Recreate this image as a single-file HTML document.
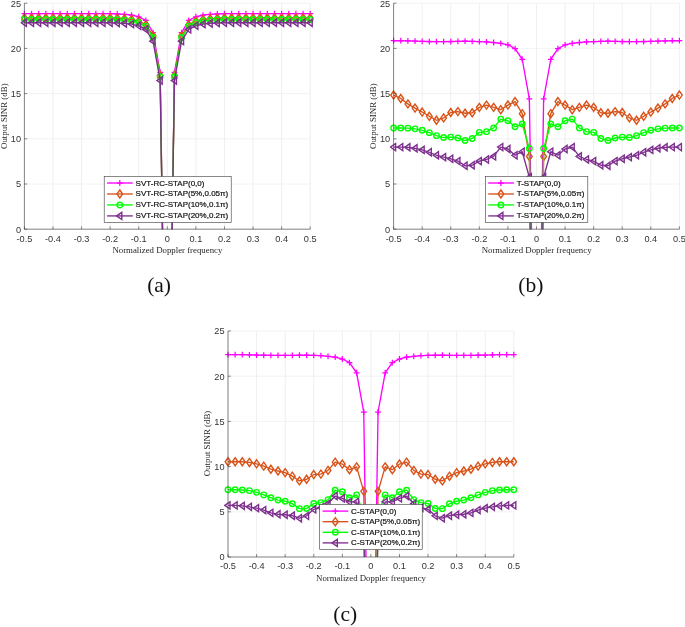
<!DOCTYPE html>
<html><head><meta charset="utf-8"><title>Output SINR versus normalized Doppler frequency</title>
<style>
html,body{margin:0;padding:0;background:#fff;}
body{width:685px;height:627px;overflow:hidden;position:relative;font-family:"Liberation Sans",sans-serif;}
svg{position:absolute;left:0;top:0;display:block;}
</style></head><body>
<svg width="685" height="627" viewBox="0 0 685 627">
<rect width="685" height="627" fill="#fff"/>
<path d="M24.4 3.2V229.2M52.98 3.2V229.2M81.56 3.2V229.2M110.14 3.2V229.2M138.72 3.2V229.2M167.3 3.2V229.2M195.88 3.2V229.2M224.46 3.2V229.2M253.04 3.2V229.2M281.62 3.2V229.2M310.2 3.2V229.2" stroke="#e9e9e9" stroke-width="0.75" fill="none"/>
<path d="M24.4 3.2H310.2M24.4 48.4H310.2M24.4 93.6H310.2M24.4 138.8H310.2M24.4 184H310.2M24.4 229.2H310.2" stroke="#ededed" stroke-width="0.75" fill="none"/>
<clipPath id="cpa"><rect x="20.4" y="3.2" width="293.8" height="226"/></clipPath>
<g clip-path="url(#cpa)">
<polyline points="24.4,13.69 31.55,13.69 38.69,13.69 45.84,13.69 52.98,13.69 60.12,13.69 67.27,13.69 74.42,13.69 81.56,13.69 88.7,13.69 95.85,13.69 103,13.69 110.14,13.69 117.28,13.96 124.43,14.41 131.58,15.04 138.72,16.76 145.87,20.38 153.01,32.67 160.16,72.36 167.3,545.6 174.45,72.36 181.59,32.67 188.74,20.38 195.88,16.76 203.03,15.04 210.17,14.41 217.32,13.96 224.46,13.69 231.61,13.69 238.75,13.69 245.9,13.69 253.04,13.69 260.19,13.69 267.33,13.69 274.48,13.69 281.62,13.69 288.76,13.69 295.91,13.69 303.06,13.69 310.2,13.69" stroke="#FF00FF" stroke-width="1.35" fill="none" stroke-linejoin="round"/>
<path d="M24.4 10.79V16.59M21.5 13.69H27.3" stroke="#FF00FF" stroke-width="1.25" fill="none"/>
<path d="M31.55 10.79V16.59M28.65 13.69H34.45" stroke="#FF00FF" stroke-width="1.25" fill="none"/>
<path d="M38.69 10.79V16.59M35.79 13.69H41.59" stroke="#FF00FF" stroke-width="1.25" fill="none"/>
<path d="M45.84 10.79V16.59M42.94 13.69H48.73" stroke="#FF00FF" stroke-width="1.25" fill="none"/>
<path d="M52.98 10.79V16.59M50.08 13.69H55.88" stroke="#FF00FF" stroke-width="1.25" fill="none"/>
<path d="M60.12 10.79V16.59M57.23 13.69H63.02" stroke="#FF00FF" stroke-width="1.25" fill="none"/>
<path d="M67.27 10.79V16.59M64.37 13.69H70.17" stroke="#FF00FF" stroke-width="1.25" fill="none"/>
<path d="M74.42 10.79V16.59M71.52 13.69H77.32" stroke="#FF00FF" stroke-width="1.25" fill="none"/>
<path d="M81.56 10.79V16.59M78.66 13.69H84.46" stroke="#FF00FF" stroke-width="1.25" fill="none"/>
<path d="M88.7 10.79V16.59M85.8 13.69H91.6" stroke="#FF00FF" stroke-width="1.25" fill="none"/>
<path d="M95.85 10.79V16.59M92.95 13.69H98.75" stroke="#FF00FF" stroke-width="1.25" fill="none"/>
<path d="M103 10.79V16.59M100.09 13.69H105.9" stroke="#FF00FF" stroke-width="1.25" fill="none"/>
<path d="M110.14 10.79V16.59M107.24 13.69H113.04" stroke="#FF00FF" stroke-width="1.25" fill="none"/>
<path d="M117.28 11.06V16.86M114.38 13.96H120.19" stroke="#FF00FF" stroke-width="1.25" fill="none"/>
<path d="M124.43 11.51V17.31M121.53 14.41H127.33" stroke="#FF00FF" stroke-width="1.25" fill="none"/>
<path d="M131.58 12.14V17.94M128.68 15.04H134.48" stroke="#FF00FF" stroke-width="1.25" fill="none"/>
<path d="M138.72 13.86V19.66M135.82 16.76H141.62" stroke="#FF00FF" stroke-width="1.25" fill="none"/>
<path d="M145.87 17.48V23.28M142.97 20.38H148.77" stroke="#FF00FF" stroke-width="1.25" fill="none"/>
<path d="M153.01 29.77V35.57M150.11 32.67H155.91" stroke="#FF00FF" stroke-width="1.25" fill="none"/>
<path d="M160.16 69.46V75.26M157.26 72.36H163.06" stroke="#FF00FF" stroke-width="1.25" fill="none"/>
<path d="M174.45 69.46V75.26M171.55 72.36H177.35" stroke="#FF00FF" stroke-width="1.25" fill="none"/>
<path d="M181.59 29.77V35.57M178.69 32.67H184.49" stroke="#FF00FF" stroke-width="1.25" fill="none"/>
<path d="M188.74 17.48V23.28M185.84 20.38H191.64" stroke="#FF00FF" stroke-width="1.25" fill="none"/>
<path d="M195.88 13.86V19.66M192.98 16.76H198.78" stroke="#FF00FF" stroke-width="1.25" fill="none"/>
<path d="M203.03 12.14V17.94M200.12 15.04H205.93" stroke="#FF00FF" stroke-width="1.25" fill="none"/>
<path d="M210.17 11.51V17.31M207.27 14.41H213.07" stroke="#FF00FF" stroke-width="1.25" fill="none"/>
<path d="M217.32 11.06V16.86M214.42 13.96H220.22" stroke="#FF00FF" stroke-width="1.25" fill="none"/>
<path d="M224.46 10.79V16.59M221.56 13.69H227.36" stroke="#FF00FF" stroke-width="1.25" fill="none"/>
<path d="M231.61 10.79V16.59M228.71 13.69H234.51" stroke="#FF00FF" stroke-width="1.25" fill="none"/>
<path d="M238.75 10.79V16.59M235.85 13.69H241.65" stroke="#FF00FF" stroke-width="1.25" fill="none"/>
<path d="M245.9 10.79V16.59M243 13.69H248.8" stroke="#FF00FF" stroke-width="1.25" fill="none"/>
<path d="M253.04 10.79V16.59M250.14 13.69H255.94" stroke="#FF00FF" stroke-width="1.25" fill="none"/>
<path d="M260.19 10.79V16.59M257.29 13.69H263.08" stroke="#FF00FF" stroke-width="1.25" fill="none"/>
<path d="M267.33 10.79V16.59M264.43 13.69H270.23" stroke="#FF00FF" stroke-width="1.25" fill="none"/>
<path d="M274.48 10.79V16.59M271.58 13.69H277.38" stroke="#FF00FF" stroke-width="1.25" fill="none"/>
<path d="M281.62 10.79V16.59M278.72 13.69H284.52" stroke="#FF00FF" stroke-width="1.25" fill="none"/>
<path d="M288.76 10.79V16.59M285.87 13.69H291.66" stroke="#FF00FF" stroke-width="1.25" fill="none"/>
<path d="M295.91 10.79V16.59M293.01 13.69H298.81" stroke="#FF00FF" stroke-width="1.25" fill="none"/>
<path d="M303.06 10.79V16.59M300.16 13.69H305.95" stroke="#FF00FF" stroke-width="1.25" fill="none"/>
<path d="M310.2 10.79V16.59M307.3 13.69H313.1" stroke="#FF00FF" stroke-width="1.25" fill="none"/>
<polyline points="24.4,18.03 31.55,18.03 38.69,18.03 45.84,18.03 52.98,18.03 60.12,18.03 67.27,18.03 74.42,18.03 81.56,18.03 88.7,18.03 95.85,18.03 103,18.03 110.14,18.03 117.28,18.3 124.43,18.75 131.58,19.38 138.72,21.1 145.87,24.72 153.01,35.74 160.16,75.52 167.3,545.6 174.45,75.52 181.59,35.74 188.74,24.72 195.88,21.1 203.03,19.38 210.17,18.75 217.32,18.3 224.46,18.03 231.61,18.03 238.75,18.03 245.9,18.03 253.04,18.03 260.19,18.03 267.33,18.03 274.48,18.03 281.62,18.03 288.76,18.03 295.91,18.03 303.06,18.03 310.2,18.03" stroke="#D95319" stroke-width="1.35" fill="none" stroke-linejoin="round"/>
<path d="M24.4 14.03L27.25 18.03L24.4 22.03L21.55 18.03Z" stroke="#D95319" stroke-width="1.4" fill="none" stroke-linejoin="miter"/>
<path d="M31.55 14.03L34.4 18.03L31.55 22.03L28.7 18.03Z" stroke="#D95319" stroke-width="1.4" fill="none" stroke-linejoin="miter"/>
<path d="M38.69 14.03L41.54 18.03L38.69 22.03L35.84 18.03Z" stroke="#D95319" stroke-width="1.4" fill="none" stroke-linejoin="miter"/>
<path d="M45.84 14.03L48.69 18.03L45.84 22.03L42.98 18.03Z" stroke="#D95319" stroke-width="1.4" fill="none" stroke-linejoin="miter"/>
<path d="M52.98 14.03L55.83 18.03L52.98 22.03L50.13 18.03Z" stroke="#D95319" stroke-width="1.4" fill="none" stroke-linejoin="miter"/>
<path d="M60.12 14.03L62.98 18.03L60.12 22.03L57.27 18.03Z" stroke="#D95319" stroke-width="1.4" fill="none" stroke-linejoin="miter"/>
<path d="M67.27 14.03L70.12 18.03L67.27 22.03L64.42 18.03Z" stroke="#D95319" stroke-width="1.4" fill="none" stroke-linejoin="miter"/>
<path d="M74.42 14.03L77.27 18.03L74.42 22.03L71.57 18.03Z" stroke="#D95319" stroke-width="1.4" fill="none" stroke-linejoin="miter"/>
<path d="M81.56 14.03L84.41 18.03L81.56 22.03L78.71 18.03Z" stroke="#D95319" stroke-width="1.4" fill="none" stroke-linejoin="miter"/>
<path d="M88.7 14.03L91.55 18.03L88.7 22.03L85.85 18.03Z" stroke="#D95319" stroke-width="1.4" fill="none" stroke-linejoin="miter"/>
<path d="M95.85 14.03L98.7 18.03L95.85 22.03L93 18.03Z" stroke="#D95319" stroke-width="1.4" fill="none" stroke-linejoin="miter"/>
<path d="M103 14.03L105.84 18.03L103 22.03L100.15 18.03Z" stroke="#D95319" stroke-width="1.4" fill="none" stroke-linejoin="miter"/>
<path d="M110.14 14.03L112.99 18.03L110.14 22.03L107.29 18.03Z" stroke="#D95319" stroke-width="1.4" fill="none" stroke-linejoin="miter"/>
<path d="M117.28 14.3L120.13 18.3L117.28 22.3L114.44 18.3Z" stroke="#D95319" stroke-width="1.4" fill="none" stroke-linejoin="miter"/>
<path d="M124.43 14.75L127.28 18.75L124.43 22.75L121.58 18.75Z" stroke="#D95319" stroke-width="1.4" fill="none" stroke-linejoin="miter"/>
<path d="M131.58 15.38L134.43 19.38L131.58 23.38L128.73 19.38Z" stroke="#D95319" stroke-width="1.4" fill="none" stroke-linejoin="miter"/>
<path d="M138.72 17.1L141.57 21.1L138.72 25.1L135.87 21.1Z" stroke="#D95319" stroke-width="1.4" fill="none" stroke-linejoin="miter"/>
<path d="M145.87 20.72L148.72 24.72L145.87 28.72L143.02 24.72Z" stroke="#D95319" stroke-width="1.4" fill="none" stroke-linejoin="miter"/>
<path d="M153.01 31.74L155.86 35.74L153.01 39.74L150.16 35.74Z" stroke="#D95319" stroke-width="1.4" fill="none" stroke-linejoin="miter"/>
<path d="M160.16 71.52L163.01 75.52L160.16 79.52L157.31 75.52Z" stroke="#D95319" stroke-width="1.4" fill="none" stroke-linejoin="miter"/>
<path d="M174.45 71.52L177.3 75.52L174.45 79.52L171.6 75.52Z" stroke="#D95319" stroke-width="1.4" fill="none" stroke-linejoin="miter"/>
<path d="M181.59 31.74L184.44 35.74L181.59 39.74L178.74 35.74Z" stroke="#D95319" stroke-width="1.4" fill="none" stroke-linejoin="miter"/>
<path d="M188.74 20.72L191.59 24.72L188.74 28.72L185.89 24.72Z" stroke="#D95319" stroke-width="1.4" fill="none" stroke-linejoin="miter"/>
<path d="M195.88 17.1L198.73 21.1L195.88 25.1L193.03 21.1Z" stroke="#D95319" stroke-width="1.4" fill="none" stroke-linejoin="miter"/>
<path d="M203.03 15.38L205.88 19.38L203.03 23.38L200.18 19.38Z" stroke="#D95319" stroke-width="1.4" fill="none" stroke-linejoin="miter"/>
<path d="M210.17 14.75L213.02 18.75L210.17 22.75L207.32 18.75Z" stroke="#D95319" stroke-width="1.4" fill="none" stroke-linejoin="miter"/>
<path d="M217.32 14.3L220.17 18.3L217.32 22.3L214.47 18.3Z" stroke="#D95319" stroke-width="1.4" fill="none" stroke-linejoin="miter"/>
<path d="M224.46 14.03L227.31 18.03L224.46 22.03L221.61 18.03Z" stroke="#D95319" stroke-width="1.4" fill="none" stroke-linejoin="miter"/>
<path d="M231.61 14.03L234.46 18.03L231.61 22.03L228.76 18.03Z" stroke="#D95319" stroke-width="1.4" fill="none" stroke-linejoin="miter"/>
<path d="M238.75 14.03L241.6 18.03L238.75 22.03L235.9 18.03Z" stroke="#D95319" stroke-width="1.4" fill="none" stroke-linejoin="miter"/>
<path d="M245.9 14.03L248.75 18.03L245.9 22.03L243.05 18.03Z" stroke="#D95319" stroke-width="1.4" fill="none" stroke-linejoin="miter"/>
<path d="M253.04 14.03L255.89 18.03L253.04 22.03L250.19 18.03Z" stroke="#D95319" stroke-width="1.4" fill="none" stroke-linejoin="miter"/>
<path d="M260.19 14.03L263.04 18.03L260.19 22.03L257.33 18.03Z" stroke="#D95319" stroke-width="1.4" fill="none" stroke-linejoin="miter"/>
<path d="M267.33 14.03L270.18 18.03L267.33 22.03L264.48 18.03Z" stroke="#D95319" stroke-width="1.4" fill="none" stroke-linejoin="miter"/>
<path d="M274.48 14.03L277.33 18.03L274.48 22.03L271.62 18.03Z" stroke="#D95319" stroke-width="1.4" fill="none" stroke-linejoin="miter"/>
<path d="M281.62 14.03L284.47 18.03L281.62 22.03L278.77 18.03Z" stroke="#D95319" stroke-width="1.4" fill="none" stroke-linejoin="miter"/>
<path d="M288.76 14.03L291.62 18.03L288.76 22.03L285.91 18.03Z" stroke="#D95319" stroke-width="1.4" fill="none" stroke-linejoin="miter"/>
<path d="M295.91 14.03L298.76 18.03L295.91 22.03L293.06 18.03Z" stroke="#D95319" stroke-width="1.4" fill="none" stroke-linejoin="miter"/>
<path d="M303.06 14.03L305.91 18.03L303.06 22.03L300.2 18.03Z" stroke="#D95319" stroke-width="1.4" fill="none" stroke-linejoin="miter"/>
<path d="M310.2 14.03L313.05 18.03L310.2 22.03L307.35 18.03Z" stroke="#D95319" stroke-width="1.4" fill="none" stroke-linejoin="miter"/>
<polyline points="24.4,19.47 31.55,19.47 38.69,19.47 45.84,19.47 52.98,19.47 60.12,19.47 67.27,19.47 74.42,19.47 81.56,19.47 88.7,19.47 95.85,19.47 103,19.47 110.14,19.47 117.28,19.74 124.43,20.2 131.58,20.83 138.72,22.55 145.87,26.16 153.01,37.55 160.16,76.88 167.3,545.6 174.45,76.88 181.59,37.55 188.74,26.16 195.88,22.55 203.03,20.83 210.17,20.2 217.32,19.74 224.46,19.47 231.61,19.47 238.75,19.47 245.9,19.47 253.04,19.47 260.19,19.47 267.33,19.47 274.48,19.47 281.62,19.47 288.76,19.47 295.91,19.47 303.06,19.47 310.2,19.47" stroke="#00FF00" stroke-width="1.35" fill="none" stroke-linejoin="round"/>
<circle cx="24.4" cy="19.47" r="2.75" stroke="#00FF00" stroke-width="1.4" fill="none"/>
<circle cx="31.55" cy="19.47" r="2.75" stroke="#00FF00" stroke-width="1.4" fill="none"/>
<circle cx="38.69" cy="19.47" r="2.75" stroke="#00FF00" stroke-width="1.4" fill="none"/>
<circle cx="45.84" cy="19.47" r="2.75" stroke="#00FF00" stroke-width="1.4" fill="none"/>
<circle cx="52.98" cy="19.47" r="2.75" stroke="#00FF00" stroke-width="1.4" fill="none"/>
<circle cx="60.12" cy="19.47" r="2.75" stroke="#00FF00" stroke-width="1.4" fill="none"/>
<circle cx="67.27" cy="19.47" r="2.75" stroke="#00FF00" stroke-width="1.4" fill="none"/>
<circle cx="74.42" cy="19.47" r="2.75" stroke="#00FF00" stroke-width="1.4" fill="none"/>
<circle cx="81.56" cy="19.47" r="2.75" stroke="#00FF00" stroke-width="1.4" fill="none"/>
<circle cx="88.7" cy="19.47" r="2.75" stroke="#00FF00" stroke-width="1.4" fill="none"/>
<circle cx="95.85" cy="19.47" r="2.75" stroke="#00FF00" stroke-width="1.4" fill="none"/>
<circle cx="103" cy="19.47" r="2.75" stroke="#00FF00" stroke-width="1.4" fill="none"/>
<circle cx="110.14" cy="19.47" r="2.75" stroke="#00FF00" stroke-width="1.4" fill="none"/>
<circle cx="117.28" cy="19.74" r="2.75" stroke="#00FF00" stroke-width="1.4" fill="none"/>
<circle cx="124.43" cy="20.2" r="2.75" stroke="#00FF00" stroke-width="1.4" fill="none"/>
<circle cx="131.58" cy="20.83" r="2.75" stroke="#00FF00" stroke-width="1.4" fill="none"/>
<circle cx="138.72" cy="22.55" r="2.75" stroke="#00FF00" stroke-width="1.4" fill="none"/>
<circle cx="145.87" cy="26.16" r="2.75" stroke="#00FF00" stroke-width="1.4" fill="none"/>
<circle cx="153.01" cy="37.55" r="2.75" stroke="#00FF00" stroke-width="1.4" fill="none"/>
<circle cx="160.16" cy="76.88" r="2.75" stroke="#00FF00" stroke-width="1.4" fill="none"/>
<circle cx="174.45" cy="76.88" r="2.75" stroke="#00FF00" stroke-width="1.4" fill="none"/>
<circle cx="181.59" cy="37.55" r="2.75" stroke="#00FF00" stroke-width="1.4" fill="none"/>
<circle cx="188.74" cy="26.16" r="2.75" stroke="#00FF00" stroke-width="1.4" fill="none"/>
<circle cx="195.88" cy="22.55" r="2.75" stroke="#00FF00" stroke-width="1.4" fill="none"/>
<circle cx="203.03" cy="20.83" r="2.75" stroke="#00FF00" stroke-width="1.4" fill="none"/>
<circle cx="210.17" cy="20.2" r="2.75" stroke="#00FF00" stroke-width="1.4" fill="none"/>
<circle cx="217.32" cy="19.74" r="2.75" stroke="#00FF00" stroke-width="1.4" fill="none"/>
<circle cx="224.46" cy="19.47" r="2.75" stroke="#00FF00" stroke-width="1.4" fill="none"/>
<circle cx="231.61" cy="19.47" r="2.75" stroke="#00FF00" stroke-width="1.4" fill="none"/>
<circle cx="238.75" cy="19.47" r="2.75" stroke="#00FF00" stroke-width="1.4" fill="none"/>
<circle cx="245.9" cy="19.47" r="2.75" stroke="#00FF00" stroke-width="1.4" fill="none"/>
<circle cx="253.04" cy="19.47" r="2.75" stroke="#00FF00" stroke-width="1.4" fill="none"/>
<circle cx="260.19" cy="19.47" r="2.75" stroke="#00FF00" stroke-width="1.4" fill="none"/>
<circle cx="267.33" cy="19.47" r="2.75" stroke="#00FF00" stroke-width="1.4" fill="none"/>
<circle cx="274.48" cy="19.47" r="2.75" stroke="#00FF00" stroke-width="1.4" fill="none"/>
<circle cx="281.62" cy="19.47" r="2.75" stroke="#00FF00" stroke-width="1.4" fill="none"/>
<circle cx="288.76" cy="19.47" r="2.75" stroke="#00FF00" stroke-width="1.4" fill="none"/>
<circle cx="295.91" cy="19.47" r="2.75" stroke="#00FF00" stroke-width="1.4" fill="none"/>
<circle cx="303.06" cy="19.47" r="2.75" stroke="#00FF00" stroke-width="1.4" fill="none"/>
<circle cx="310.2" cy="19.47" r="2.75" stroke="#00FF00" stroke-width="1.4" fill="none"/>
<polyline points="24.4,22.73 31.55,22.73 38.69,22.73 45.84,22.73 52.98,22.73 60.12,22.73 67.27,22.73 74.42,22.73 81.56,22.73 88.7,22.73 95.85,22.73 103,22.73 110.14,22.73 117.28,23 124.43,23.45 131.58,24.08 138.72,25.8 145.87,29.42 153.01,41.17 160.16,80.49 167.3,545.6 174.45,80.49 181.59,41.17 188.74,29.42 195.88,25.8 203.03,24.08 210.17,23.45 217.32,23 224.46,22.73 231.61,22.73 238.75,22.73 245.9,22.73 253.04,22.73 260.19,22.73 267.33,22.73 274.48,22.73 281.62,22.73 288.76,22.73 295.91,22.73 303.06,22.73 310.2,22.73" stroke="#7E2F8E" stroke-width="1.35" fill="none" stroke-linejoin="round"/>
<path d="M21.2 22.73L26.4 19.13V26.33Z" stroke="#7E2F8E" stroke-width="1.4" fill="none" stroke-linejoin="miter"/>
<path d="M28.35 22.73L33.55 19.13V26.33Z" stroke="#7E2F8E" stroke-width="1.4" fill="none" stroke-linejoin="miter"/>
<path d="M35.49 22.73L40.69 19.13V26.33Z" stroke="#7E2F8E" stroke-width="1.4" fill="none" stroke-linejoin="miter"/>
<path d="M42.63 22.73L47.84 19.13V26.33Z" stroke="#7E2F8E" stroke-width="1.4" fill="none" stroke-linejoin="miter"/>
<path d="M49.78 22.73L54.98 19.13V26.33Z" stroke="#7E2F8E" stroke-width="1.4" fill="none" stroke-linejoin="miter"/>
<path d="M56.92 22.73L62.12 19.13V26.33Z" stroke="#7E2F8E" stroke-width="1.4" fill="none" stroke-linejoin="miter"/>
<path d="M64.07 22.73L69.27 19.13V26.33Z" stroke="#7E2F8E" stroke-width="1.4" fill="none" stroke-linejoin="miter"/>
<path d="M71.22 22.73L76.42 19.13V26.33Z" stroke="#7E2F8E" stroke-width="1.4" fill="none" stroke-linejoin="miter"/>
<path d="M78.36 22.73L83.56 19.13V26.33Z" stroke="#7E2F8E" stroke-width="1.4" fill="none" stroke-linejoin="miter"/>
<path d="M85.5 22.73L90.7 19.13V26.33Z" stroke="#7E2F8E" stroke-width="1.4" fill="none" stroke-linejoin="miter"/>
<path d="M92.65 22.73L97.85 19.13V26.33Z" stroke="#7E2F8E" stroke-width="1.4" fill="none" stroke-linejoin="miter"/>
<path d="M99.8 22.73L105 19.13V26.33Z" stroke="#7E2F8E" stroke-width="1.4" fill="none" stroke-linejoin="miter"/>
<path d="M106.94 22.73L112.14 19.13V26.33Z" stroke="#7E2F8E" stroke-width="1.4" fill="none" stroke-linejoin="miter"/>
<path d="M114.08 23L119.28 19.4V26.6Z" stroke="#7E2F8E" stroke-width="1.4" fill="none" stroke-linejoin="miter"/>
<path d="M121.23 23.45L126.43 19.85V27.05Z" stroke="#7E2F8E" stroke-width="1.4" fill="none" stroke-linejoin="miter"/>
<path d="M128.38 24.08L133.58 20.48V27.68Z" stroke="#7E2F8E" stroke-width="1.4" fill="none" stroke-linejoin="miter"/>
<path d="M135.52 25.8L140.72 22.2V29.4Z" stroke="#7E2F8E" stroke-width="1.4" fill="none" stroke-linejoin="miter"/>
<path d="M142.67 29.42L147.87 25.82V33.02Z" stroke="#7E2F8E" stroke-width="1.4" fill="none" stroke-linejoin="miter"/>
<path d="M149.81 41.17L155.01 37.57V44.77Z" stroke="#7E2F8E" stroke-width="1.4" fill="none" stroke-linejoin="miter"/>
<path d="M156.96 80.49L162.16 76.89V84.09Z" stroke="#7E2F8E" stroke-width="1.4" fill="none" stroke-linejoin="miter"/>
<path d="M171.25 80.49L176.45 76.89V84.09Z" stroke="#7E2F8E" stroke-width="1.4" fill="none" stroke-linejoin="miter"/>
<path d="M178.39 41.17L183.59 37.57V44.77Z" stroke="#7E2F8E" stroke-width="1.4" fill="none" stroke-linejoin="miter"/>
<path d="M185.54 29.42L190.74 25.82V33.02Z" stroke="#7E2F8E" stroke-width="1.4" fill="none" stroke-linejoin="miter"/>
<path d="M192.68 25.8L197.88 22.2V29.4Z" stroke="#7E2F8E" stroke-width="1.4" fill="none" stroke-linejoin="miter"/>
<path d="M199.83 24.08L205.03 20.48V27.68Z" stroke="#7E2F8E" stroke-width="1.4" fill="none" stroke-linejoin="miter"/>
<path d="M206.97 23.45L212.17 19.85V27.05Z" stroke="#7E2F8E" stroke-width="1.4" fill="none" stroke-linejoin="miter"/>
<path d="M214.12 23L219.32 19.4V26.6Z" stroke="#7E2F8E" stroke-width="1.4" fill="none" stroke-linejoin="miter"/>
<path d="M221.26 22.73L226.46 19.13V26.33Z" stroke="#7E2F8E" stroke-width="1.4" fill="none" stroke-linejoin="miter"/>
<path d="M228.41 22.73L233.61 19.13V26.33Z" stroke="#7E2F8E" stroke-width="1.4" fill="none" stroke-linejoin="miter"/>
<path d="M235.55 22.73L240.75 19.13V26.33Z" stroke="#7E2F8E" stroke-width="1.4" fill="none" stroke-linejoin="miter"/>
<path d="M242.7 22.73L247.9 19.13V26.33Z" stroke="#7E2F8E" stroke-width="1.4" fill="none" stroke-linejoin="miter"/>
<path d="M249.84 22.73L255.04 19.13V26.33Z" stroke="#7E2F8E" stroke-width="1.4" fill="none" stroke-linejoin="miter"/>
<path d="M256.99 22.73L262.19 19.13V26.33Z" stroke="#7E2F8E" stroke-width="1.4" fill="none" stroke-linejoin="miter"/>
<path d="M264.13 22.73L269.33 19.13V26.33Z" stroke="#7E2F8E" stroke-width="1.4" fill="none" stroke-linejoin="miter"/>
<path d="M271.28 22.73L276.48 19.13V26.33Z" stroke="#7E2F8E" stroke-width="1.4" fill="none" stroke-linejoin="miter"/>
<path d="M278.42 22.73L283.62 19.13V26.33Z" stroke="#7E2F8E" stroke-width="1.4" fill="none" stroke-linejoin="miter"/>
<path d="M285.56 22.73L290.76 19.13V26.33Z" stroke="#7E2F8E" stroke-width="1.4" fill="none" stroke-linejoin="miter"/>
<path d="M292.71 22.73L297.91 19.13V26.33Z" stroke="#7E2F8E" stroke-width="1.4" fill="none" stroke-linejoin="miter"/>
<path d="M299.86 22.73L305.06 19.13V26.33Z" stroke="#7E2F8E" stroke-width="1.4" fill="none" stroke-linejoin="miter"/>
<path d="M307 22.73L312.2 19.13V26.33Z" stroke="#7E2F8E" stroke-width="1.4" fill="none" stroke-linejoin="miter"/>
</g>
<path d="M24.4 3.2V229.2H310.2M24.4 229.2v-2.9M52.98 229.2v-2.9M81.56 229.2v-2.9M110.14 229.2v-2.9M138.72 229.2v-2.9M167.3 229.2v-2.9M195.88 229.2v-2.9M224.46 229.2v-2.9M253.04 229.2v-2.9M281.62 229.2v-2.9M310.2 229.2v-2.9M24.4 3.2h2.9M24.4 48.4h2.9M24.4 93.6h2.9M24.4 138.8h2.9M24.4 184h2.9M24.4 229.2h2.9" stroke="#3a3a3a" stroke-width="0.6" fill="none"/>
<g font-family="Liberation Sans, Arial, sans-serif" font-size="9.2" fill="#333">
<text x="24.4" y="241.6" text-anchor="middle">-0.5</text>
<text x="52.98" y="241.6" text-anchor="middle">-0.4</text>
<text x="81.56" y="241.6" text-anchor="middle">-0.3</text>
<text x="110.14" y="241.6" text-anchor="middle">-0.2</text>
<text x="138.72" y="241.6" text-anchor="middle">-0.1</text>
<text x="167.3" y="241.6" text-anchor="middle">0</text>
<text x="195.88" y="241.6" text-anchor="middle">0.1</text>
<text x="224.46" y="241.6" text-anchor="middle">0.2</text>
<text x="253.04" y="241.6" text-anchor="middle">0.3</text>
<text x="281.62" y="241.6" text-anchor="middle">0.4</text>
<text x="310.2" y="241.6" text-anchor="middle">0.5</text>
<text x="21" y="6.5" text-anchor="end">25</text>
<text x="21" y="51.7" text-anchor="end">20</text>
<text x="21" y="96.9" text-anchor="end">15</text>
<text x="21" y="142.1" text-anchor="end">10</text>
<text x="21" y="187.3" text-anchor="end">5</text>
<text x="21" y="232.5" text-anchor="end">0</text>
</g>
<g font-family="Liberation Serif, Times New Roman, serif" fill="#262626">
<text x="167.4" y="252.5" font-size="8.8" text-anchor="middle">Normalized Doppler frequency</text>
<text transform="translate(6.6 116.2) rotate(-90)" font-size="8.9" text-anchor="middle">Output SINR (dB)</text>
<text x="159.1" y="292.3" font-size="21.5" text-anchor="middle" fill="#111">(a)</text>
</g>
<rect x="104.2" y="176.4" width="127" height="46" fill="#fff" stroke="#3a3a3a" stroke-width="0.6"/>
<g font-family="Liberation Sans, Arial, sans-serif" font-size="8.03" fill="#111" stroke="#111" stroke-width="0.2">
<path d="M107.1 183H132.8" stroke="#FF00FF" stroke-width="1.35"/>
<path d="M119.8 180.1V185.9M116.9 183H122.7" stroke="#FF00FF" stroke-width="1.25" fill="none"/>
<text x="135.6" y="185.5">SVT-RC-STAP(0,0)</text>
<path d="M107.1 193.97H132.8" stroke="#D95319" stroke-width="1.35"/>
<path d="M119.8 189.97L122.65 193.97L119.8 197.97L116.95 193.97Z" stroke="#D95319" stroke-width="1.4" fill="none" stroke-linejoin="miter"/>
<text x="135.6" y="196.47">SVT-RC-STAP(5%,0.05π)</text>
<path d="M107.1 204.94H132.8" stroke="#00FF00" stroke-width="1.35"/>
<circle cx="119.8" cy="204.94" r="2.75" stroke="#00FF00" stroke-width="1.4" fill="none"/>
<text x="135.6" y="207.44">SVT-RC-STAP(10%,0.1π)</text>
<path d="M107.1 215.91H132.8" stroke="#7E2F8E" stroke-width="1.35"/>
<path d="M116.6 215.91L121.8 212.31V219.51Z" stroke="#7E2F8E" stroke-width="1.4" fill="none" stroke-linejoin="miter"/>
<text x="135.6" y="218.41">SVT-RC-STAP(20%,0.2π)</text>
</g>
<path d="M393.6 3.2V229.2M422.18 3.2V229.2M450.76 3.2V229.2M479.34 3.2V229.2M507.92 3.2V229.2M536.5 3.2V229.2M565.08 3.2V229.2M593.66 3.2V229.2M622.24 3.2V229.2M650.82 3.2V229.2M679.4 3.2V229.2" stroke="#e9e9e9" stroke-width="0.75" fill="none"/>
<path d="M393.6 3.2H679.4M393.6 48.4H679.4M393.6 93.6H679.4M393.6 138.8H679.4M393.6 184H679.4M393.6 229.2H679.4" stroke="#ededed" stroke-width="0.75" fill="none"/>
<clipPath id="cpb"><rect x="389.6" y="3.2" width="293.8" height="226"/></clipPath>
<g clip-path="url(#cpb)">
<polyline points="393.6,40.72 400.75,40.72 407.89,40.9 415.04,41.17 422.18,41.35 429.33,41.53 436.47,41.62 443.62,41.62 450.76,41.53 457.91,41.35 465.05,41.17 472.2,41.35 479.34,41.62 486.49,41.89 493.63,42.52 500.78,43.43 507.92,44.78 515.07,48.67 522.21,59.25 529.36,98.84 536.5,545.6 543.64,98.84 550.79,59.25 557.94,48.67 565.08,44.78 572.23,43.43 579.37,42.52 586.52,41.89 593.66,41.62 600.81,41.35 607.95,41.17 615.1,41.35 622.24,41.53 629.38,41.62 636.53,41.62 643.68,41.53 650.82,41.35 657.97,41.17 665.11,40.9 672.26,40.72 679.4,40.72" stroke="#FF00FF" stroke-width="1.35" fill="none" stroke-linejoin="round"/>
<path d="M393.6 37.82V43.62M390.7 40.72H396.5" stroke="#FF00FF" stroke-width="1.25" fill="none"/>
<path d="M400.75 37.82V43.62M397.85 40.72H403.64" stroke="#FF00FF" stroke-width="1.25" fill="none"/>
<path d="M407.89 38V43.8M404.99 40.9H410.79" stroke="#FF00FF" stroke-width="1.25" fill="none"/>
<path d="M415.04 38.27V44.07M412.14 41.17H417.94" stroke="#FF00FF" stroke-width="1.25" fill="none"/>
<path d="M422.18 38.45V44.25M419.28 41.35H425.08" stroke="#FF00FF" stroke-width="1.25" fill="none"/>
<path d="M429.33 38.63V44.43M426.43 41.53H432.23" stroke="#FF00FF" stroke-width="1.25" fill="none"/>
<path d="M436.47 38.72V44.52M433.57 41.62H439.37" stroke="#FF00FF" stroke-width="1.25" fill="none"/>
<path d="M443.62 38.72V44.52M440.72 41.62H446.51" stroke="#FF00FF" stroke-width="1.25" fill="none"/>
<path d="M450.76 38.63V44.43M447.86 41.53H453.66" stroke="#FF00FF" stroke-width="1.25" fill="none"/>
<path d="M457.91 38.45V44.25M455.01 41.35H460.81" stroke="#FF00FF" stroke-width="1.25" fill="none"/>
<path d="M465.05 38.27V44.07M462.15 41.17H467.95" stroke="#FF00FF" stroke-width="1.25" fill="none"/>
<path d="M472.2 38.45V44.25M469.3 41.35H475.1" stroke="#FF00FF" stroke-width="1.25" fill="none"/>
<path d="M479.34 38.72V44.52M476.44 41.62H482.24" stroke="#FF00FF" stroke-width="1.25" fill="none"/>
<path d="M486.49 38.99V44.79M483.59 41.89H489.38" stroke="#FF00FF" stroke-width="1.25" fill="none"/>
<path d="M493.63 39.62V45.42M490.73 42.52H496.53" stroke="#FF00FF" stroke-width="1.25" fill="none"/>
<path d="M500.78 40.53V46.33M497.88 43.43H503.68" stroke="#FF00FF" stroke-width="1.25" fill="none"/>
<path d="M507.92 41.88V47.68M505.02 44.78H510.82" stroke="#FF00FF" stroke-width="1.25" fill="none"/>
<path d="M515.07 45.77V51.57M512.17 48.67H517.97" stroke="#FF00FF" stroke-width="1.25" fill="none"/>
<path d="M522.21 56.35V62.15M519.31 59.25H525.11" stroke="#FF00FF" stroke-width="1.25" fill="none"/>
<path d="M529.36 95.94V101.74M526.46 98.84H532.25" stroke="#FF00FF" stroke-width="1.25" fill="none"/>
<path d="M543.64 95.94V101.74M540.75 98.84H546.54" stroke="#FF00FF" stroke-width="1.25" fill="none"/>
<path d="M550.79 56.35V62.15M547.89 59.25H553.69" stroke="#FF00FF" stroke-width="1.25" fill="none"/>
<path d="M557.94 45.77V51.57M555.04 48.67H560.84" stroke="#FF00FF" stroke-width="1.25" fill="none"/>
<path d="M565.08 41.88V47.68M562.18 44.78H567.98" stroke="#FF00FF" stroke-width="1.25" fill="none"/>
<path d="M572.23 40.53V46.33M569.33 43.43H575.12" stroke="#FF00FF" stroke-width="1.25" fill="none"/>
<path d="M579.37 39.62V45.42M576.47 42.52H582.27" stroke="#FF00FF" stroke-width="1.25" fill="none"/>
<path d="M586.52 38.99V44.79M583.62 41.89H589.42" stroke="#FF00FF" stroke-width="1.25" fill="none"/>
<path d="M593.66 38.72V44.52M590.76 41.62H596.56" stroke="#FF00FF" stroke-width="1.25" fill="none"/>
<path d="M600.81 38.45V44.25M597.91 41.35H603.71" stroke="#FF00FF" stroke-width="1.25" fill="none"/>
<path d="M607.95 38.27V44.07M605.05 41.17H610.85" stroke="#FF00FF" stroke-width="1.25" fill="none"/>
<path d="M615.1 38.45V44.25M612.2 41.35H618" stroke="#FF00FF" stroke-width="1.25" fill="none"/>
<path d="M622.24 38.63V44.43M619.34 41.53H625.14" stroke="#FF00FF" stroke-width="1.25" fill="none"/>
<path d="M629.38 38.72V44.52M626.49 41.62H632.28" stroke="#FF00FF" stroke-width="1.25" fill="none"/>
<path d="M636.53 38.72V44.52M633.63 41.62H639.43" stroke="#FF00FF" stroke-width="1.25" fill="none"/>
<path d="M643.68 38.63V44.43M640.78 41.53H646.58" stroke="#FF00FF" stroke-width="1.25" fill="none"/>
<path d="M650.82 38.45V44.25M647.92 41.35H653.72" stroke="#FF00FF" stroke-width="1.25" fill="none"/>
<path d="M657.97 38.27V44.07M655.07 41.17H660.87" stroke="#FF00FF" stroke-width="1.25" fill="none"/>
<path d="M665.11 38V43.8M662.21 40.9H668.01" stroke="#FF00FF" stroke-width="1.25" fill="none"/>
<path d="M672.26 37.82V43.62M669.36 40.72H675.16" stroke="#FF00FF" stroke-width="1.25" fill="none"/>
<path d="M679.4 37.82V43.62M676.5 40.72H682.3" stroke="#FF00FF" stroke-width="1.25" fill="none"/>
<polyline points="393.6,95.05 400.75,98.48 407.89,103.91 415.04,108.06 422.18,112.04 429.33,116.29 436.47,120.27 443.62,117.92 450.76,112.49 457.91,111.59 465.05,113.22 472.2,112.76 479.34,107.34 486.49,105.08 493.63,107.34 500.78,109.69 507.92,105.08 515.07,101.56 522.21,113.67 529.36,156.43 536.5,636 543.64,156.43 550.79,113.67 557.94,101.56 565.08,105.08 572.23,109.69 579.37,107.34 586.52,105.08 593.66,107.34 600.81,112.76 607.95,113.22 615.1,111.59 622.24,112.49 629.38,117.92 636.53,120.27 643.68,116.29 650.82,112.04 657.97,108.06 665.11,103.91 672.26,98.48 679.4,95.05" stroke="#D95319" stroke-width="1.35" fill="none" stroke-linejoin="round"/>
<path d="M393.6 91.05L396.45 95.05L393.6 99.05L390.75 95.05Z" stroke="#D95319" stroke-width="1.4" fill="none" stroke-linejoin="miter"/>
<path d="M400.75 94.48L403.6 98.48L400.75 102.48L397.89 98.48Z" stroke="#D95319" stroke-width="1.4" fill="none" stroke-linejoin="miter"/>
<path d="M407.89 99.91L410.74 103.91L407.89 107.91L405.04 103.91Z" stroke="#D95319" stroke-width="1.4" fill="none" stroke-linejoin="miter"/>
<path d="M415.04 104.06L417.89 108.06L415.04 112.06L412.19 108.06Z" stroke="#D95319" stroke-width="1.4" fill="none" stroke-linejoin="miter"/>
<path d="M422.18 108.04L425.03 112.04L422.18 116.04L419.33 112.04Z" stroke="#D95319" stroke-width="1.4" fill="none" stroke-linejoin="miter"/>
<path d="M429.33 112.29L432.18 116.29L429.33 120.29L426.48 116.29Z" stroke="#D95319" stroke-width="1.4" fill="none" stroke-linejoin="miter"/>
<path d="M436.47 116.27L439.32 120.27L436.47 124.27L433.62 120.27Z" stroke="#D95319" stroke-width="1.4" fill="none" stroke-linejoin="miter"/>
<path d="M443.62 113.92L446.47 117.92L443.62 121.92L440.76 117.92Z" stroke="#D95319" stroke-width="1.4" fill="none" stroke-linejoin="miter"/>
<path d="M450.76 108.49L453.61 112.49L450.76 116.49L447.91 112.49Z" stroke="#D95319" stroke-width="1.4" fill="none" stroke-linejoin="miter"/>
<path d="M457.91 107.59L460.76 111.59L457.91 115.59L455.06 111.59Z" stroke="#D95319" stroke-width="1.4" fill="none" stroke-linejoin="miter"/>
<path d="M465.05 109.22L467.9 113.22L465.05 117.22L462.2 113.22Z" stroke="#D95319" stroke-width="1.4" fill="none" stroke-linejoin="miter"/>
<path d="M472.2 108.76L475.05 112.76L472.2 116.76L469.35 112.76Z" stroke="#D95319" stroke-width="1.4" fill="none" stroke-linejoin="miter"/>
<path d="M479.34 103.34L482.19 107.34L479.34 111.34L476.49 107.34Z" stroke="#D95319" stroke-width="1.4" fill="none" stroke-linejoin="miter"/>
<path d="M486.49 101.08L489.34 105.08L486.49 109.08L483.63 105.08Z" stroke="#D95319" stroke-width="1.4" fill="none" stroke-linejoin="miter"/>
<path d="M493.63 103.34L496.48 107.34L493.63 111.34L490.78 107.34Z" stroke="#D95319" stroke-width="1.4" fill="none" stroke-linejoin="miter"/>
<path d="M500.78 105.69L503.63 109.69L500.78 113.69L497.93 109.69Z" stroke="#D95319" stroke-width="1.4" fill="none" stroke-linejoin="miter"/>
<path d="M507.92 101.08L510.77 105.08L507.92 109.08L505.07 105.08Z" stroke="#D95319" stroke-width="1.4" fill="none" stroke-linejoin="miter"/>
<path d="M515.07 97.56L517.92 101.56L515.07 105.56L512.22 101.56Z" stroke="#D95319" stroke-width="1.4" fill="none" stroke-linejoin="miter"/>
<path d="M522.21 109.67L525.06 113.67L522.21 117.67L519.36 113.67Z" stroke="#D95319" stroke-width="1.4" fill="none" stroke-linejoin="miter"/>
<path d="M529.36 152.43L532.21 156.43L529.36 160.43L526.5 156.43Z" stroke="#D95319" stroke-width="1.4" fill="none" stroke-linejoin="miter"/>
<path d="M543.64 152.43L546.5 156.43L543.64 160.43L540.79 156.43Z" stroke="#D95319" stroke-width="1.4" fill="none" stroke-linejoin="miter"/>
<path d="M550.79 109.67L553.64 113.67L550.79 117.67L547.94 113.67Z" stroke="#D95319" stroke-width="1.4" fill="none" stroke-linejoin="miter"/>
<path d="M557.94 97.56L560.79 101.56L557.94 105.56L555.09 101.56Z" stroke="#D95319" stroke-width="1.4" fill="none" stroke-linejoin="miter"/>
<path d="M565.08 101.08L567.93 105.08L565.08 109.08L562.23 105.08Z" stroke="#D95319" stroke-width="1.4" fill="none" stroke-linejoin="miter"/>
<path d="M572.23 105.69L575.08 109.69L572.23 113.69L569.38 109.69Z" stroke="#D95319" stroke-width="1.4" fill="none" stroke-linejoin="miter"/>
<path d="M579.37 103.34L582.22 107.34L579.37 111.34L576.52 107.34Z" stroke="#D95319" stroke-width="1.4" fill="none" stroke-linejoin="miter"/>
<path d="M586.52 101.08L589.37 105.08L586.52 109.08L583.67 105.08Z" stroke="#D95319" stroke-width="1.4" fill="none" stroke-linejoin="miter"/>
<path d="M593.66 103.34L596.51 107.34L593.66 111.34L590.81 107.34Z" stroke="#D95319" stroke-width="1.4" fill="none" stroke-linejoin="miter"/>
<path d="M600.81 108.76L603.66 112.76L600.81 116.76L597.96 112.76Z" stroke="#D95319" stroke-width="1.4" fill="none" stroke-linejoin="miter"/>
<path d="M607.95 109.22L610.8 113.22L607.95 117.22L605.1 113.22Z" stroke="#D95319" stroke-width="1.4" fill="none" stroke-linejoin="miter"/>
<path d="M615.1 107.59L617.95 111.59L615.1 115.59L612.25 111.59Z" stroke="#D95319" stroke-width="1.4" fill="none" stroke-linejoin="miter"/>
<path d="M622.24 108.49L625.09 112.49L622.24 116.49L619.39 112.49Z" stroke="#D95319" stroke-width="1.4" fill="none" stroke-linejoin="miter"/>
<path d="M629.38 113.92L632.24 117.92L629.38 121.92L626.53 117.92Z" stroke="#D95319" stroke-width="1.4" fill="none" stroke-linejoin="miter"/>
<path d="M636.53 116.27L639.38 120.27L636.53 124.27L633.68 120.27Z" stroke="#D95319" stroke-width="1.4" fill="none" stroke-linejoin="miter"/>
<path d="M643.68 112.29L646.53 116.29L643.68 120.29L640.83 116.29Z" stroke="#D95319" stroke-width="1.4" fill="none" stroke-linejoin="miter"/>
<path d="M650.82 108.04L653.67 112.04L650.82 116.04L647.97 112.04Z" stroke="#D95319" stroke-width="1.4" fill="none" stroke-linejoin="miter"/>
<path d="M657.97 104.06L660.82 108.06L657.97 112.06L655.12 108.06Z" stroke="#D95319" stroke-width="1.4" fill="none" stroke-linejoin="miter"/>
<path d="M665.11 99.91L667.96 103.91L665.11 107.91L662.26 103.91Z" stroke="#D95319" stroke-width="1.4" fill="none" stroke-linejoin="miter"/>
<path d="M672.26 94.48L675.11 98.48L672.26 102.48L669.41 98.48Z" stroke="#D95319" stroke-width="1.4" fill="none" stroke-linejoin="miter"/>
<path d="M679.4 91.05L682.25 95.05L679.4 99.05L676.55 95.05Z" stroke="#D95319" stroke-width="1.4" fill="none" stroke-linejoin="miter"/>
<polyline points="393.6,127.95 400.75,127.95 407.89,128.13 415.04,128.86 422.18,130.3 429.33,132.65 436.47,135.64 443.62,137.53 450.76,137.08 457.91,137.99 465.05,140.52 472.2,138.44 479.34,132.38 486.49,131.66 493.63,127.95 500.78,119.09 507.92,120.72 515.07,126.78 522.21,123.97 529.36,148.47 536.5,636 543.64,148.47 550.79,123.97 557.94,126.78 565.08,120.72 572.23,119.09 579.37,127.95 586.52,131.66 593.66,132.38 600.81,138.44 607.95,140.52 615.1,137.99 622.24,137.08 629.38,137.53 636.53,135.64 643.68,132.65 650.82,130.3 657.97,128.86 665.11,128.13 672.26,127.95 679.4,127.95" stroke="#00FF00" stroke-width="1.35" fill="none" stroke-linejoin="round"/>
<circle cx="393.6" cy="127.95" r="2.75" stroke="#00FF00" stroke-width="1.4" fill="none"/>
<circle cx="400.75" cy="127.95" r="2.75" stroke="#00FF00" stroke-width="1.4" fill="none"/>
<circle cx="407.89" cy="128.13" r="2.75" stroke="#00FF00" stroke-width="1.4" fill="none"/>
<circle cx="415.04" cy="128.86" r="2.75" stroke="#00FF00" stroke-width="1.4" fill="none"/>
<circle cx="422.18" cy="130.3" r="2.75" stroke="#00FF00" stroke-width="1.4" fill="none"/>
<circle cx="429.33" cy="132.65" r="2.75" stroke="#00FF00" stroke-width="1.4" fill="none"/>
<circle cx="436.47" cy="135.64" r="2.75" stroke="#00FF00" stroke-width="1.4" fill="none"/>
<circle cx="443.62" cy="137.53" r="2.75" stroke="#00FF00" stroke-width="1.4" fill="none"/>
<circle cx="450.76" cy="137.08" r="2.75" stroke="#00FF00" stroke-width="1.4" fill="none"/>
<circle cx="457.91" cy="137.99" r="2.75" stroke="#00FF00" stroke-width="1.4" fill="none"/>
<circle cx="465.05" cy="140.52" r="2.75" stroke="#00FF00" stroke-width="1.4" fill="none"/>
<circle cx="472.2" cy="138.44" r="2.75" stroke="#00FF00" stroke-width="1.4" fill="none"/>
<circle cx="479.34" cy="132.38" r="2.75" stroke="#00FF00" stroke-width="1.4" fill="none"/>
<circle cx="486.49" cy="131.66" r="2.75" stroke="#00FF00" stroke-width="1.4" fill="none"/>
<circle cx="493.63" cy="127.95" r="2.75" stroke="#00FF00" stroke-width="1.4" fill="none"/>
<circle cx="500.78" cy="119.09" r="2.75" stroke="#00FF00" stroke-width="1.4" fill="none"/>
<circle cx="507.92" cy="120.72" r="2.75" stroke="#00FF00" stroke-width="1.4" fill="none"/>
<circle cx="515.07" cy="126.78" r="2.75" stroke="#00FF00" stroke-width="1.4" fill="none"/>
<circle cx="522.21" cy="123.97" r="2.75" stroke="#00FF00" stroke-width="1.4" fill="none"/>
<circle cx="529.36" cy="148.47" r="2.75" stroke="#00FF00" stroke-width="1.4" fill="none"/>
<circle cx="543.64" cy="148.47" r="2.75" stroke="#00FF00" stroke-width="1.4" fill="none"/>
<circle cx="550.79" cy="123.97" r="2.75" stroke="#00FF00" stroke-width="1.4" fill="none"/>
<circle cx="557.94" cy="126.78" r="2.75" stroke="#00FF00" stroke-width="1.4" fill="none"/>
<circle cx="565.08" cy="120.72" r="2.75" stroke="#00FF00" stroke-width="1.4" fill="none"/>
<circle cx="572.23" cy="119.09" r="2.75" stroke="#00FF00" stroke-width="1.4" fill="none"/>
<circle cx="579.37" cy="127.95" r="2.75" stroke="#00FF00" stroke-width="1.4" fill="none"/>
<circle cx="586.52" cy="131.66" r="2.75" stroke="#00FF00" stroke-width="1.4" fill="none"/>
<circle cx="593.66" cy="132.38" r="2.75" stroke="#00FF00" stroke-width="1.4" fill="none"/>
<circle cx="600.81" cy="138.44" r="2.75" stroke="#00FF00" stroke-width="1.4" fill="none"/>
<circle cx="607.95" cy="140.52" r="2.75" stroke="#00FF00" stroke-width="1.4" fill="none"/>
<circle cx="615.1" cy="137.99" r="2.75" stroke="#00FF00" stroke-width="1.4" fill="none"/>
<circle cx="622.24" cy="137.08" r="2.75" stroke="#00FF00" stroke-width="1.4" fill="none"/>
<circle cx="629.38" cy="137.53" r="2.75" stroke="#00FF00" stroke-width="1.4" fill="none"/>
<circle cx="636.53" cy="135.64" r="2.75" stroke="#00FF00" stroke-width="1.4" fill="none"/>
<circle cx="643.68" cy="132.65" r="2.75" stroke="#00FF00" stroke-width="1.4" fill="none"/>
<circle cx="650.82" cy="130.3" r="2.75" stroke="#00FF00" stroke-width="1.4" fill="none"/>
<circle cx="657.97" cy="128.86" r="2.75" stroke="#00FF00" stroke-width="1.4" fill="none"/>
<circle cx="665.11" cy="128.13" r="2.75" stroke="#00FF00" stroke-width="1.4" fill="none"/>
<circle cx="672.26" cy="127.95" r="2.75" stroke="#00FF00" stroke-width="1.4" fill="none"/>
<circle cx="679.4" cy="127.95" r="2.75" stroke="#00FF00" stroke-width="1.4" fill="none"/>
<polyline points="393.6,147.12 400.75,147.12 407.89,147.3 415.04,148.29 422.18,149.92 429.33,152.27 436.47,155.25 443.62,157.15 450.76,158.78 457.91,161.13 465.05,165.74 472.2,165.29 479.34,161.13 486.49,159.5 493.63,156.43 500.78,147.12 507.92,149.02 515.07,155.25 522.21,151.73 529.36,177.22 536.5,636 543.64,177.22 550.79,151.73 557.94,155.25 565.08,149.02 572.23,147.12 579.37,156.43 586.52,159.5 593.66,161.13 600.81,165.29 607.95,165.74 615.1,161.13 622.24,158.78 629.38,157.15 636.53,155.25 643.68,152.27 650.82,149.92 657.97,148.29 665.11,147.3 672.26,147.12 679.4,147.12" stroke="#7E2F8E" stroke-width="1.35" fill="none" stroke-linejoin="round"/>
<path d="M390.4 147.12L395.6 143.52V150.72Z" stroke="#7E2F8E" stroke-width="1.4" fill="none" stroke-linejoin="miter"/>
<path d="M397.55 147.12L402.75 143.52V150.72Z" stroke="#7E2F8E" stroke-width="1.4" fill="none" stroke-linejoin="miter"/>
<path d="M404.69 147.3L409.89 143.7V150.9Z" stroke="#7E2F8E" stroke-width="1.4" fill="none" stroke-linejoin="miter"/>
<path d="M411.84 148.29L417.04 144.69V151.89Z" stroke="#7E2F8E" stroke-width="1.4" fill="none" stroke-linejoin="miter"/>
<path d="M418.98 149.92L424.18 146.32V153.52Z" stroke="#7E2F8E" stroke-width="1.4" fill="none" stroke-linejoin="miter"/>
<path d="M426.13 152.27L431.33 148.67V155.87Z" stroke="#7E2F8E" stroke-width="1.4" fill="none" stroke-linejoin="miter"/>
<path d="M433.27 155.25L438.47 151.65V158.85Z" stroke="#7E2F8E" stroke-width="1.4" fill="none" stroke-linejoin="miter"/>
<path d="M440.42 157.15L445.62 153.55V160.75Z" stroke="#7E2F8E" stroke-width="1.4" fill="none" stroke-linejoin="miter"/>
<path d="M447.56 158.78L452.76 155.18V162.38Z" stroke="#7E2F8E" stroke-width="1.4" fill="none" stroke-linejoin="miter"/>
<path d="M454.71 161.13L459.91 157.53V164.73Z" stroke="#7E2F8E" stroke-width="1.4" fill="none" stroke-linejoin="miter"/>
<path d="M461.85 165.74L467.05 162.14V169.34Z" stroke="#7E2F8E" stroke-width="1.4" fill="none" stroke-linejoin="miter"/>
<path d="M469 165.29L474.2 161.69V168.89Z" stroke="#7E2F8E" stroke-width="1.4" fill="none" stroke-linejoin="miter"/>
<path d="M476.14 161.13L481.34 157.53V164.73Z" stroke="#7E2F8E" stroke-width="1.4" fill="none" stroke-linejoin="miter"/>
<path d="M483.29 159.5L488.49 155.9V163.1Z" stroke="#7E2F8E" stroke-width="1.4" fill="none" stroke-linejoin="miter"/>
<path d="M490.43 156.43L495.63 152.83V160.03Z" stroke="#7E2F8E" stroke-width="1.4" fill="none" stroke-linejoin="miter"/>
<path d="M497.58 147.12L502.78 143.52V150.72Z" stroke="#7E2F8E" stroke-width="1.4" fill="none" stroke-linejoin="miter"/>
<path d="M504.72 149.02L509.92 145.42V152.62Z" stroke="#7E2F8E" stroke-width="1.4" fill="none" stroke-linejoin="miter"/>
<path d="M511.87 155.25L517.07 151.65V158.85Z" stroke="#7E2F8E" stroke-width="1.4" fill="none" stroke-linejoin="miter"/>
<path d="M519.01 151.73L524.21 148.13V155.33Z" stroke="#7E2F8E" stroke-width="1.4" fill="none" stroke-linejoin="miter"/>
<path d="M526.15 177.22L531.36 173.62V180.82Z" stroke="#7E2F8E" stroke-width="1.4" fill="none" stroke-linejoin="miter"/>
<path d="M540.44 177.22L545.64 173.62V180.82Z" stroke="#7E2F8E" stroke-width="1.4" fill="none" stroke-linejoin="miter"/>
<path d="M547.59 151.73L552.79 148.13V155.33Z" stroke="#7E2F8E" stroke-width="1.4" fill="none" stroke-linejoin="miter"/>
<path d="M554.74 155.25L559.94 151.65V158.85Z" stroke="#7E2F8E" stroke-width="1.4" fill="none" stroke-linejoin="miter"/>
<path d="M561.88 149.02L567.08 145.42V152.62Z" stroke="#7E2F8E" stroke-width="1.4" fill="none" stroke-linejoin="miter"/>
<path d="M569.02 147.12L574.23 143.52V150.72Z" stroke="#7E2F8E" stroke-width="1.4" fill="none" stroke-linejoin="miter"/>
<path d="M576.17 156.43L581.37 152.83V160.03Z" stroke="#7E2F8E" stroke-width="1.4" fill="none" stroke-linejoin="miter"/>
<path d="M583.32 159.5L588.52 155.9V163.1Z" stroke="#7E2F8E" stroke-width="1.4" fill="none" stroke-linejoin="miter"/>
<path d="M590.46 161.13L595.66 157.53V164.73Z" stroke="#7E2F8E" stroke-width="1.4" fill="none" stroke-linejoin="miter"/>
<path d="M597.61 165.29L602.81 161.69V168.89Z" stroke="#7E2F8E" stroke-width="1.4" fill="none" stroke-linejoin="miter"/>
<path d="M604.75 165.74L609.95 162.14V169.34Z" stroke="#7E2F8E" stroke-width="1.4" fill="none" stroke-linejoin="miter"/>
<path d="M611.89 161.13L617.1 157.53V164.73Z" stroke="#7E2F8E" stroke-width="1.4" fill="none" stroke-linejoin="miter"/>
<path d="M619.04 158.78L624.24 155.18V162.38Z" stroke="#7E2F8E" stroke-width="1.4" fill="none" stroke-linejoin="miter"/>
<path d="M626.18 157.15L631.38 153.55V160.75Z" stroke="#7E2F8E" stroke-width="1.4" fill="none" stroke-linejoin="miter"/>
<path d="M633.33 155.25L638.53 151.65V158.85Z" stroke="#7E2F8E" stroke-width="1.4" fill="none" stroke-linejoin="miter"/>
<path d="M640.48 152.27L645.68 148.67V155.87Z" stroke="#7E2F8E" stroke-width="1.4" fill="none" stroke-linejoin="miter"/>
<path d="M647.62 149.92L652.82 146.32V153.52Z" stroke="#7E2F8E" stroke-width="1.4" fill="none" stroke-linejoin="miter"/>
<path d="M654.76 148.29L659.97 144.69V151.89Z" stroke="#7E2F8E" stroke-width="1.4" fill="none" stroke-linejoin="miter"/>
<path d="M661.91 147.3L667.11 143.7V150.9Z" stroke="#7E2F8E" stroke-width="1.4" fill="none" stroke-linejoin="miter"/>
<path d="M669.06 147.12L674.26 143.52V150.72Z" stroke="#7E2F8E" stroke-width="1.4" fill="none" stroke-linejoin="miter"/>
<path d="M676.2 147.12L681.4 143.52V150.72Z" stroke="#7E2F8E" stroke-width="1.4" fill="none" stroke-linejoin="miter"/>
</g>
<path d="M393.6 3.2V229.2H679.4M393.6 229.2v-2.9M422.18 229.2v-2.9M450.76 229.2v-2.9M479.34 229.2v-2.9M507.92 229.2v-2.9M536.5 229.2v-2.9M565.08 229.2v-2.9M593.66 229.2v-2.9M622.24 229.2v-2.9M650.82 229.2v-2.9M679.4 229.2v-2.9M393.6 3.2h2.9M393.6 48.4h2.9M393.6 93.6h2.9M393.6 138.8h2.9M393.6 184h2.9M393.6 229.2h2.9" stroke="#3a3a3a" stroke-width="0.6" fill="none"/>
<g font-family="Liberation Sans, Arial, sans-serif" font-size="9.2" fill="#333">
<text x="393.6" y="241.6" text-anchor="middle">-0.5</text>
<text x="422.18" y="241.6" text-anchor="middle">-0.4</text>
<text x="450.76" y="241.6" text-anchor="middle">-0.3</text>
<text x="479.34" y="241.6" text-anchor="middle">-0.2</text>
<text x="507.92" y="241.6" text-anchor="middle">-0.1</text>
<text x="536.5" y="241.6" text-anchor="middle">0</text>
<text x="565.08" y="241.6" text-anchor="middle">0.1</text>
<text x="593.66" y="241.6" text-anchor="middle">0.2</text>
<text x="622.24" y="241.6" text-anchor="middle">0.3</text>
<text x="650.82" y="241.6" text-anchor="middle">0.4</text>
<text x="679.4" y="241.6" text-anchor="middle">0.5</text>
<text x="390.2" y="6.5" text-anchor="end">25</text>
<text x="390.2" y="51.7" text-anchor="end">20</text>
<text x="390.2" y="96.9" text-anchor="end">15</text>
<text x="390.2" y="142.1" text-anchor="end">10</text>
<text x="390.2" y="187.3" text-anchor="end">5</text>
<text x="390.2" y="232.5" text-anchor="end">0</text>
</g>
<g font-family="Liberation Serif, Times New Roman, serif" fill="#262626">
<text x="536.6" y="252.5" font-size="8.8" text-anchor="middle">Normalized Doppler frequency</text>
<text transform="translate(375.6 116.2) rotate(-90)" font-size="8.9" text-anchor="middle">Output SINR (dB)</text>
<text x="530.8" y="292.3" font-size="21.5" text-anchor="middle" fill="#111">(b)</text>
</g>
<rect x="485.3" y="176.4" width="102.5" height="46" fill="#fff" stroke="#3a3a3a" stroke-width="0.6"/>
<g font-family="Liberation Sans, Arial, sans-serif" font-size="8.03" fill="#111" stroke="#111" stroke-width="0.2">
<path d="M488.2 183H513.9" stroke="#FF00FF" stroke-width="1.35"/>
<path d="M500.9 180.1V185.9M498 183H503.8" stroke="#FF00FF" stroke-width="1.25" fill="none"/>
<text x="516.7" y="185.5">T-STAP(0,0)</text>
<path d="M488.2 193.97H513.9" stroke="#D95319" stroke-width="1.35"/>
<path d="M500.9 189.97L503.75 193.97L500.9 197.97L498.05 193.97Z" stroke="#D95319" stroke-width="1.4" fill="none" stroke-linejoin="miter"/>
<text x="516.7" y="196.47">T-STAP(5%,0.05π)</text>
<path d="M488.2 204.94H513.9" stroke="#00FF00" stroke-width="1.35"/>
<circle cx="500.9" cy="204.94" r="2.75" stroke="#00FF00" stroke-width="1.4" fill="none"/>
<text x="516.7" y="207.44">T-STAP(10%,0.1π)</text>
<path d="M488.2 215.91H513.9" stroke="#7E2F8E" stroke-width="1.35"/>
<path d="M497.7 215.91L502.9 212.31V219.51Z" stroke="#7E2F8E" stroke-width="1.4" fill="none" stroke-linejoin="miter"/>
<text x="516.7" y="218.41">T-STAP(20%,0.2π)</text>
</g>
<path d="M228 331V557M256.58 331V557M285.16 331V557M313.74 331V557M342.32 331V557M370.9 331V557M399.48 331V557M428.06 331V557M456.64 331V557M485.22 331V557M513.8 331V557" stroke="#e9e9e9" stroke-width="0.75" fill="none"/>
<path d="M228 331H513.8M228 376.2H513.8M228 421.4H513.8M228 466.6H513.8M228 511.8H513.8M228 557H513.8" stroke="#ededed" stroke-width="0.75" fill="none"/>
<clipPath id="cpc"><rect x="224" y="331" width="293.8" height="226"/></clipPath>
<g clip-path="url(#cpc)">
<polyline points="228,354.59 235.15,354.59 242.29,354.68 249.44,354.87 256.58,355.05 263.73,355.23 270.87,355.32 278.01,355.41 285.16,355.41 292.31,355.32 299.45,355.14 306.6,355.23 313.74,355.41 320.88,355.68 328.03,356.31 335.18,357.22 342.32,359.02 349.47,362.64 356.61,372.76 363.75,412 370.9,873.4 378.05,412 385.19,372.76 392.34,362.64 399.48,359.02 406.62,357.22 413.77,356.31 420.92,355.68 428.06,355.41 435.21,355.23 442.35,355.14 449.5,355.32 456.64,355.41 463.79,355.41 470.93,355.32 478.08,355.23 485.22,355.05 492.37,354.87 499.51,354.68 506.66,354.59 513.8,354.59" stroke="#FF00FF" stroke-width="1.35" fill="none" stroke-linejoin="round"/>
<path d="M228 351.69V357.49M225.1 354.59H230.9" stroke="#FF00FF" stroke-width="1.25" fill="none"/>
<path d="M235.15 351.69V357.49M232.25 354.59H238.05" stroke="#FF00FF" stroke-width="1.25" fill="none"/>
<path d="M242.29 351.78V357.58M239.39 354.68H245.19" stroke="#FF00FF" stroke-width="1.25" fill="none"/>
<path d="M249.44 351.97V357.77M246.53 354.87H252.34" stroke="#FF00FF" stroke-width="1.25" fill="none"/>
<path d="M256.58 352.15V357.95M253.68 355.05H259.48" stroke="#FF00FF" stroke-width="1.25" fill="none"/>
<path d="M263.73 352.33V358.13M260.83 355.23H266.62" stroke="#FF00FF" stroke-width="1.25" fill="none"/>
<path d="M270.87 352.42V358.22M267.97 355.32H273.77" stroke="#FF00FF" stroke-width="1.25" fill="none"/>
<path d="M278.01 352.51V358.31M275.12 355.41H280.91" stroke="#FF00FF" stroke-width="1.25" fill="none"/>
<path d="M285.16 352.51V358.31M282.26 355.41H288.06" stroke="#FF00FF" stroke-width="1.25" fill="none"/>
<path d="M292.31 352.42V358.22M289.41 355.32H295.2" stroke="#FF00FF" stroke-width="1.25" fill="none"/>
<path d="M299.45 352.24V358.04M296.55 355.14H302.35" stroke="#FF00FF" stroke-width="1.25" fill="none"/>
<path d="M306.6 352.33V358.13M303.7 355.23H309.5" stroke="#FF00FF" stroke-width="1.25" fill="none"/>
<path d="M313.74 352.51V358.31M310.84 355.41H316.64" stroke="#FF00FF" stroke-width="1.25" fill="none"/>
<path d="M320.88 352.78V358.58M317.99 355.68H323.78" stroke="#FF00FF" stroke-width="1.25" fill="none"/>
<path d="M328.03 353.41V359.21M325.13 356.31H330.93" stroke="#FF00FF" stroke-width="1.25" fill="none"/>
<path d="M335.18 354.32V360.12M332.28 357.22H338.07" stroke="#FF00FF" stroke-width="1.25" fill="none"/>
<path d="M342.32 356.12V361.92M339.42 359.02H345.22" stroke="#FF00FF" stroke-width="1.25" fill="none"/>
<path d="M349.47 359.74V365.54M346.57 362.64H352.37" stroke="#FF00FF" stroke-width="1.25" fill="none"/>
<path d="M356.61 369.86V375.66M353.71 372.76H359.51" stroke="#FF00FF" stroke-width="1.25" fill="none"/>
<path d="M363.75 409.1V414.9M360.86 412H366.65" stroke="#FF00FF" stroke-width="1.25" fill="none"/>
<path d="M378.05 409.1V414.9M375.15 412H380.94" stroke="#FF00FF" stroke-width="1.25" fill="none"/>
<path d="M385.19 369.86V375.66M382.29 372.76H388.09" stroke="#FF00FF" stroke-width="1.25" fill="none"/>
<path d="M392.34 359.74V365.54M389.44 362.64H395.24" stroke="#FF00FF" stroke-width="1.25" fill="none"/>
<path d="M399.48 356.12V361.92M396.58 359.02H402.38" stroke="#FF00FF" stroke-width="1.25" fill="none"/>
<path d="M406.62 354.32V360.12M403.73 357.22H409.52" stroke="#FF00FF" stroke-width="1.25" fill="none"/>
<path d="M413.77 353.41V359.21M410.87 356.31H416.67" stroke="#FF00FF" stroke-width="1.25" fill="none"/>
<path d="M420.92 352.78V358.58M418.02 355.68H423.81" stroke="#FF00FF" stroke-width="1.25" fill="none"/>
<path d="M428.06 352.51V358.31M425.16 355.41H430.96" stroke="#FF00FF" stroke-width="1.25" fill="none"/>
<path d="M435.21 352.33V358.13M432.31 355.23H438.11" stroke="#FF00FF" stroke-width="1.25" fill="none"/>
<path d="M442.35 352.24V358.04M439.45 355.14H445.25" stroke="#FF00FF" stroke-width="1.25" fill="none"/>
<path d="M449.5 352.42V358.22M446.6 355.32H452.39" stroke="#FF00FF" stroke-width="1.25" fill="none"/>
<path d="M456.64 352.51V358.31M453.74 355.41H459.54" stroke="#FF00FF" stroke-width="1.25" fill="none"/>
<path d="M463.79 352.51V358.31M460.89 355.41H466.69" stroke="#FF00FF" stroke-width="1.25" fill="none"/>
<path d="M470.93 352.42V358.22M468.03 355.32H473.83" stroke="#FF00FF" stroke-width="1.25" fill="none"/>
<path d="M478.08 352.33V358.13M475.18 355.23H480.98" stroke="#FF00FF" stroke-width="1.25" fill="none"/>
<path d="M485.22 352.15V357.95M482.32 355.05H488.12" stroke="#FF00FF" stroke-width="1.25" fill="none"/>
<path d="M492.37 351.97V357.77M489.47 354.87H495.26" stroke="#FF00FF" stroke-width="1.25" fill="none"/>
<path d="M499.51 351.78V357.58M496.61 354.68H502.41" stroke="#FF00FF" stroke-width="1.25" fill="none"/>
<path d="M506.66 351.69V357.49M503.76 354.59H509.56" stroke="#FF00FF" stroke-width="1.25" fill="none"/>
<path d="M513.8 351.69V357.49M510.9 354.59H516.7" stroke="#FF00FF" stroke-width="1.25" fill="none"/>
<polyline points="228,461.72 235.15,461.72 242.29,461.72 249.44,462.44 256.58,463.8 263.73,466.15 270.87,469.22 278.01,471.03 285.16,472.66 292.31,476.18 299.45,480.88 306.6,479.26 313.74,474.56 320.88,474.1 328.03,470.4 335.18,462.17 342.32,464.07 349.47,469.67 356.61,466.87 363.75,491.37 370.9,963.8 378.05,491.37 385.19,466.87 392.34,469.67 399.48,464.07 406.62,462.17 413.77,470.4 420.92,474.1 428.06,474.56 435.21,479.26 442.35,480.88 449.5,476.18 456.64,472.66 463.79,471.03 470.93,469.22 478.08,466.15 485.22,463.8 492.37,462.44 499.51,461.72 506.66,461.72 513.8,461.72" stroke="#D95319" stroke-width="1.35" fill="none" stroke-linejoin="round"/>
<path d="M228 457.72L230.85 461.72L228 465.72L225.15 461.72Z" stroke="#D95319" stroke-width="1.4" fill="none" stroke-linejoin="miter"/>
<path d="M235.15 457.72L238 461.72L235.15 465.72L232.3 461.72Z" stroke="#D95319" stroke-width="1.4" fill="none" stroke-linejoin="miter"/>
<path d="M242.29 457.72L245.14 461.72L242.29 465.72L239.44 461.72Z" stroke="#D95319" stroke-width="1.4" fill="none" stroke-linejoin="miter"/>
<path d="M249.44 458.44L252.28 462.44L249.44 466.44L246.59 462.44Z" stroke="#D95319" stroke-width="1.4" fill="none" stroke-linejoin="miter"/>
<path d="M256.58 459.8L259.43 463.8L256.58 467.8L253.73 463.8Z" stroke="#D95319" stroke-width="1.4" fill="none" stroke-linejoin="miter"/>
<path d="M263.73 462.15L266.58 466.15L263.73 470.15L260.88 466.15Z" stroke="#D95319" stroke-width="1.4" fill="none" stroke-linejoin="miter"/>
<path d="M270.87 465.22L273.72 469.22L270.87 473.22L268.02 469.22Z" stroke="#D95319" stroke-width="1.4" fill="none" stroke-linejoin="miter"/>
<path d="M278.01 467.03L280.87 471.03L278.01 475.03L275.16 471.03Z" stroke="#D95319" stroke-width="1.4" fill="none" stroke-linejoin="miter"/>
<path d="M285.16 468.66L288.01 472.66L285.16 476.66L282.31 472.66Z" stroke="#D95319" stroke-width="1.4" fill="none" stroke-linejoin="miter"/>
<path d="M292.31 472.18L295.16 476.18L292.31 480.18L289.45 476.18Z" stroke="#D95319" stroke-width="1.4" fill="none" stroke-linejoin="miter"/>
<path d="M299.45 476.88L302.3 480.88L299.45 484.88L296.6 480.88Z" stroke="#D95319" stroke-width="1.4" fill="none" stroke-linejoin="miter"/>
<path d="M306.6 475.26L309.45 479.26L306.6 483.26L303.75 479.26Z" stroke="#D95319" stroke-width="1.4" fill="none" stroke-linejoin="miter"/>
<path d="M313.74 470.56L316.59 474.56L313.74 478.56L310.89 474.56Z" stroke="#D95319" stroke-width="1.4" fill="none" stroke-linejoin="miter"/>
<path d="M320.88 470.1L323.74 474.1L320.88 478.1L318.03 474.1Z" stroke="#D95319" stroke-width="1.4" fill="none" stroke-linejoin="miter"/>
<path d="M328.03 466.4L330.88 470.4L328.03 474.4L325.18 470.4Z" stroke="#D95319" stroke-width="1.4" fill="none" stroke-linejoin="miter"/>
<path d="M335.18 458.17L338.03 462.17L335.18 466.17L332.32 462.17Z" stroke="#D95319" stroke-width="1.4" fill="none" stroke-linejoin="miter"/>
<path d="M342.32 460.07L345.17 464.07L342.32 468.07L339.47 464.07Z" stroke="#D95319" stroke-width="1.4" fill="none" stroke-linejoin="miter"/>
<path d="M349.47 465.67L352.32 469.67L349.47 473.67L346.62 469.67Z" stroke="#D95319" stroke-width="1.4" fill="none" stroke-linejoin="miter"/>
<path d="M356.61 462.87L359.46 466.87L356.61 470.87L353.76 466.87Z" stroke="#D95319" stroke-width="1.4" fill="none" stroke-linejoin="miter"/>
<path d="M363.75 487.37L366.61 491.37L363.75 495.37L360.9 491.37Z" stroke="#D95319" stroke-width="1.4" fill="none" stroke-linejoin="miter"/>
<path d="M378.05 487.37L380.9 491.37L378.05 495.37L375.19 491.37Z" stroke="#D95319" stroke-width="1.4" fill="none" stroke-linejoin="miter"/>
<path d="M385.19 462.87L388.04 466.87L385.19 470.87L382.34 466.87Z" stroke="#D95319" stroke-width="1.4" fill="none" stroke-linejoin="miter"/>
<path d="M392.34 465.67L395.19 469.67L392.34 473.67L389.49 469.67Z" stroke="#D95319" stroke-width="1.4" fill="none" stroke-linejoin="miter"/>
<path d="M399.48 460.07L402.33 464.07L399.48 468.07L396.63 464.07Z" stroke="#D95319" stroke-width="1.4" fill="none" stroke-linejoin="miter"/>
<path d="M406.62 458.17L409.48 462.17L406.62 466.17L403.77 462.17Z" stroke="#D95319" stroke-width="1.4" fill="none" stroke-linejoin="miter"/>
<path d="M413.77 466.4L416.62 470.4L413.77 474.4L410.92 470.4Z" stroke="#D95319" stroke-width="1.4" fill="none" stroke-linejoin="miter"/>
<path d="M420.92 470.1L423.77 474.1L420.92 478.1L418.06 474.1Z" stroke="#D95319" stroke-width="1.4" fill="none" stroke-linejoin="miter"/>
<path d="M428.06 470.56L430.91 474.56L428.06 478.56L425.21 474.56Z" stroke="#D95319" stroke-width="1.4" fill="none" stroke-linejoin="miter"/>
<path d="M435.21 475.26L438.06 479.26L435.21 483.26L432.36 479.26Z" stroke="#D95319" stroke-width="1.4" fill="none" stroke-linejoin="miter"/>
<path d="M442.35 476.88L445.2 480.88L442.35 484.88L439.5 480.88Z" stroke="#D95319" stroke-width="1.4" fill="none" stroke-linejoin="miter"/>
<path d="M449.5 472.18L452.35 476.18L449.5 480.18L446.64 476.18Z" stroke="#D95319" stroke-width="1.4" fill="none" stroke-linejoin="miter"/>
<path d="M456.64 468.66L459.49 472.66L456.64 476.66L453.79 472.66Z" stroke="#D95319" stroke-width="1.4" fill="none" stroke-linejoin="miter"/>
<path d="M463.79 467.03L466.64 471.03L463.79 475.03L460.94 471.03Z" stroke="#D95319" stroke-width="1.4" fill="none" stroke-linejoin="miter"/>
<path d="M470.93 465.22L473.78 469.22L470.93 473.22L468.08 469.22Z" stroke="#D95319" stroke-width="1.4" fill="none" stroke-linejoin="miter"/>
<path d="M478.08 462.15L480.93 466.15L478.08 470.15L475.23 466.15Z" stroke="#D95319" stroke-width="1.4" fill="none" stroke-linejoin="miter"/>
<path d="M485.22 459.8L488.07 463.8L485.22 467.8L482.37 463.8Z" stroke="#D95319" stroke-width="1.4" fill="none" stroke-linejoin="miter"/>
<path d="M492.37 458.44L495.22 462.44L492.37 466.44L489.51 462.44Z" stroke="#D95319" stroke-width="1.4" fill="none" stroke-linejoin="miter"/>
<path d="M499.51 457.72L502.36 461.72L499.51 465.72L496.66 461.72Z" stroke="#D95319" stroke-width="1.4" fill="none" stroke-linejoin="miter"/>
<path d="M506.66 457.72L509.51 461.72L506.66 465.72L503.81 461.72Z" stroke="#D95319" stroke-width="1.4" fill="none" stroke-linejoin="miter"/>
<path d="M513.8 457.72L516.65 461.72L513.8 465.72L510.95 461.72Z" stroke="#D95319" stroke-width="1.4" fill="none" stroke-linejoin="miter"/>
<polyline points="228,489.74 235.15,489.74 242.29,490.01 249.44,490.65 256.58,492.36 263.73,494.9 270.87,497.7 278.01,500.05 285.16,501.22 292.31,503.75 299.45,508.64 306.6,508.46 313.74,503.57 320.88,502.58 328.03,499.6 335.18,490.19 342.32,491.82 349.47,497.7 356.61,494.9 363.75,513.61 370.9,963.8 378.05,513.61 385.19,494.9 392.34,497.7 399.48,491.82 406.62,490.19 413.77,499.6 420.92,502.58 428.06,503.57 435.21,508.46 442.35,508.64 449.5,503.75 456.64,501.22 463.79,500.05 470.93,497.7 478.08,494.9 485.22,492.36 492.37,490.65 499.51,490.01 506.66,489.74 513.8,489.74" stroke="#00FF00" stroke-width="1.35" fill="none" stroke-linejoin="round"/>
<circle cx="228" cy="489.74" r="2.75" stroke="#00FF00" stroke-width="1.4" fill="none"/>
<circle cx="235.15" cy="489.74" r="2.75" stroke="#00FF00" stroke-width="1.4" fill="none"/>
<circle cx="242.29" cy="490.01" r="2.75" stroke="#00FF00" stroke-width="1.4" fill="none"/>
<circle cx="249.44" cy="490.65" r="2.75" stroke="#00FF00" stroke-width="1.4" fill="none"/>
<circle cx="256.58" cy="492.36" r="2.75" stroke="#00FF00" stroke-width="1.4" fill="none"/>
<circle cx="263.73" cy="494.9" r="2.75" stroke="#00FF00" stroke-width="1.4" fill="none"/>
<circle cx="270.87" cy="497.7" r="2.75" stroke="#00FF00" stroke-width="1.4" fill="none"/>
<circle cx="278.01" cy="500.05" r="2.75" stroke="#00FF00" stroke-width="1.4" fill="none"/>
<circle cx="285.16" cy="501.22" r="2.75" stroke="#00FF00" stroke-width="1.4" fill="none"/>
<circle cx="292.31" cy="503.75" r="2.75" stroke="#00FF00" stroke-width="1.4" fill="none"/>
<circle cx="299.45" cy="508.64" r="2.75" stroke="#00FF00" stroke-width="1.4" fill="none"/>
<circle cx="306.6" cy="508.46" r="2.75" stroke="#00FF00" stroke-width="1.4" fill="none"/>
<circle cx="313.74" cy="503.57" r="2.75" stroke="#00FF00" stroke-width="1.4" fill="none"/>
<circle cx="320.88" cy="502.58" r="2.75" stroke="#00FF00" stroke-width="1.4" fill="none"/>
<circle cx="328.03" cy="499.6" r="2.75" stroke="#00FF00" stroke-width="1.4" fill="none"/>
<circle cx="335.18" cy="490.19" r="2.75" stroke="#00FF00" stroke-width="1.4" fill="none"/>
<circle cx="342.32" cy="491.82" r="2.75" stroke="#00FF00" stroke-width="1.4" fill="none"/>
<circle cx="349.47" cy="497.7" r="2.75" stroke="#00FF00" stroke-width="1.4" fill="none"/>
<circle cx="356.61" cy="494.9" r="2.75" stroke="#00FF00" stroke-width="1.4" fill="none"/>
<circle cx="363.75" cy="513.61" r="2.75" stroke="#00FF00" stroke-width="1.4" fill="none"/>
<circle cx="378.05" cy="513.61" r="2.75" stroke="#00FF00" stroke-width="1.4" fill="none"/>
<circle cx="385.19" cy="494.9" r="2.75" stroke="#00FF00" stroke-width="1.4" fill="none"/>
<circle cx="392.34" cy="497.7" r="2.75" stroke="#00FF00" stroke-width="1.4" fill="none"/>
<circle cx="399.48" cy="491.82" r="2.75" stroke="#00FF00" stroke-width="1.4" fill="none"/>
<circle cx="406.62" cy="490.19" r="2.75" stroke="#00FF00" stroke-width="1.4" fill="none"/>
<circle cx="413.77" cy="499.6" r="2.75" stroke="#00FF00" stroke-width="1.4" fill="none"/>
<circle cx="420.92" cy="502.58" r="2.75" stroke="#00FF00" stroke-width="1.4" fill="none"/>
<circle cx="428.06" cy="503.57" r="2.75" stroke="#00FF00" stroke-width="1.4" fill="none"/>
<circle cx="435.21" cy="508.46" r="2.75" stroke="#00FF00" stroke-width="1.4" fill="none"/>
<circle cx="442.35" cy="508.64" r="2.75" stroke="#00FF00" stroke-width="1.4" fill="none"/>
<circle cx="449.5" cy="503.75" r="2.75" stroke="#00FF00" stroke-width="1.4" fill="none"/>
<circle cx="456.64" cy="501.22" r="2.75" stroke="#00FF00" stroke-width="1.4" fill="none"/>
<circle cx="463.79" cy="500.05" r="2.75" stroke="#00FF00" stroke-width="1.4" fill="none"/>
<circle cx="470.93" cy="497.7" r="2.75" stroke="#00FF00" stroke-width="1.4" fill="none"/>
<circle cx="478.08" cy="494.9" r="2.75" stroke="#00FF00" stroke-width="1.4" fill="none"/>
<circle cx="485.22" cy="492.36" r="2.75" stroke="#00FF00" stroke-width="1.4" fill="none"/>
<circle cx="492.37" cy="490.65" r="2.75" stroke="#00FF00" stroke-width="1.4" fill="none"/>
<circle cx="499.51" cy="490.01" r="2.75" stroke="#00FF00" stroke-width="1.4" fill="none"/>
<circle cx="506.66" cy="489.74" r="2.75" stroke="#00FF00" stroke-width="1.4" fill="none"/>
<circle cx="513.8" cy="489.74" r="2.75" stroke="#00FF00" stroke-width="1.4" fill="none"/>
<polyline points="228,505.38 235.15,505.38 242.29,505.83 249.44,506.83 256.58,508.18 263.73,510.08 270.87,512.88 278.01,514.24 285.16,514.78 292.31,515.69 299.45,518.22 306.6,515.87 313.74,509.36 320.88,507.73 328.03,503.57 335.18,496.07 342.32,498.42 349.47,501.86 356.61,501.86 363.75,524.46 370.9,963.8 378.05,524.46 385.19,501.86 392.34,501.86 399.48,498.42 406.62,496.07 413.77,503.57 420.92,507.73 428.06,509.36 435.21,515.87 442.35,518.22 449.5,515.69 456.64,514.78 463.79,514.24 470.93,512.88 478.08,510.08 485.22,508.18 492.37,506.83 499.51,505.83 506.66,505.38 513.8,505.38" stroke="#7E2F8E" stroke-width="1.35" fill="none" stroke-linejoin="round"/>
<path d="M224.8 505.38L230 501.78V508.98Z" stroke="#7E2F8E" stroke-width="1.4" fill="none" stroke-linejoin="miter"/>
<path d="M231.95 505.38L237.15 501.78V508.98Z" stroke="#7E2F8E" stroke-width="1.4" fill="none" stroke-linejoin="miter"/>
<path d="M239.09 505.83L244.29 502.23V509.43Z" stroke="#7E2F8E" stroke-width="1.4" fill="none" stroke-linejoin="miter"/>
<path d="M246.24 506.83L251.44 503.23V510.43Z" stroke="#7E2F8E" stroke-width="1.4" fill="none" stroke-linejoin="miter"/>
<path d="M253.38 508.18L258.58 504.58V511.78Z" stroke="#7E2F8E" stroke-width="1.4" fill="none" stroke-linejoin="miter"/>
<path d="M260.53 510.08L265.73 506.48V513.68Z" stroke="#7E2F8E" stroke-width="1.4" fill="none" stroke-linejoin="miter"/>
<path d="M267.67 512.88L272.87 509.28V516.48Z" stroke="#7E2F8E" stroke-width="1.4" fill="none" stroke-linejoin="miter"/>
<path d="M274.81 514.24L280.01 510.64V517.84Z" stroke="#7E2F8E" stroke-width="1.4" fill="none" stroke-linejoin="miter"/>
<path d="M281.96 514.78L287.16 511.18V518.38Z" stroke="#7E2F8E" stroke-width="1.4" fill="none" stroke-linejoin="miter"/>
<path d="M289.11 515.69L294.31 512.09V519.29Z" stroke="#7E2F8E" stroke-width="1.4" fill="none" stroke-linejoin="miter"/>
<path d="M296.25 518.22L301.45 514.62V521.82Z" stroke="#7E2F8E" stroke-width="1.4" fill="none" stroke-linejoin="miter"/>
<path d="M303.4 515.87L308.6 512.27V519.47Z" stroke="#7E2F8E" stroke-width="1.4" fill="none" stroke-linejoin="miter"/>
<path d="M310.54 509.36L315.74 505.76V512.96Z" stroke="#7E2F8E" stroke-width="1.4" fill="none" stroke-linejoin="miter"/>
<path d="M317.69 507.73L322.88 504.13V511.33Z" stroke="#7E2F8E" stroke-width="1.4" fill="none" stroke-linejoin="miter"/>
<path d="M324.83 503.57L330.03 499.97V507.17Z" stroke="#7E2F8E" stroke-width="1.4" fill="none" stroke-linejoin="miter"/>
<path d="M331.98 496.07L337.18 492.47V499.67Z" stroke="#7E2F8E" stroke-width="1.4" fill="none" stroke-linejoin="miter"/>
<path d="M339.12 498.42L344.32 494.82V502.02Z" stroke="#7E2F8E" stroke-width="1.4" fill="none" stroke-linejoin="miter"/>
<path d="M346.27 501.86L351.47 498.26V505.46Z" stroke="#7E2F8E" stroke-width="1.4" fill="none" stroke-linejoin="miter"/>
<path d="M353.41 501.86L358.61 498.26V505.46Z" stroke="#7E2F8E" stroke-width="1.4" fill="none" stroke-linejoin="miter"/>
<path d="M360.56 524.46L365.75 520.86V528.06Z" stroke="#7E2F8E" stroke-width="1.4" fill="none" stroke-linejoin="miter"/>
<path d="M374.85 524.46L380.05 520.86V528.06Z" stroke="#7E2F8E" stroke-width="1.4" fill="none" stroke-linejoin="miter"/>
<path d="M381.99 501.86L387.19 498.26V505.46Z" stroke="#7E2F8E" stroke-width="1.4" fill="none" stroke-linejoin="miter"/>
<path d="M389.14 501.86L394.34 498.26V505.46Z" stroke="#7E2F8E" stroke-width="1.4" fill="none" stroke-linejoin="miter"/>
<path d="M396.28 498.42L401.48 494.82V502.02Z" stroke="#7E2F8E" stroke-width="1.4" fill="none" stroke-linejoin="miter"/>
<path d="M403.43 496.07L408.62 492.47V499.67Z" stroke="#7E2F8E" stroke-width="1.4" fill="none" stroke-linejoin="miter"/>
<path d="M410.57 503.57L415.77 499.97V507.17Z" stroke="#7E2F8E" stroke-width="1.4" fill="none" stroke-linejoin="miter"/>
<path d="M417.72 507.73L422.92 504.13V511.33Z" stroke="#7E2F8E" stroke-width="1.4" fill="none" stroke-linejoin="miter"/>
<path d="M424.86 509.36L430.06 505.76V512.96Z" stroke="#7E2F8E" stroke-width="1.4" fill="none" stroke-linejoin="miter"/>
<path d="M432.01 515.87L437.21 512.27V519.47Z" stroke="#7E2F8E" stroke-width="1.4" fill="none" stroke-linejoin="miter"/>
<path d="M439.15 518.22L444.35 514.62V521.82Z" stroke="#7E2F8E" stroke-width="1.4" fill="none" stroke-linejoin="miter"/>
<path d="M446.3 515.69L451.5 512.09V519.29Z" stroke="#7E2F8E" stroke-width="1.4" fill="none" stroke-linejoin="miter"/>
<path d="M453.44 514.78L458.64 511.18V518.38Z" stroke="#7E2F8E" stroke-width="1.4" fill="none" stroke-linejoin="miter"/>
<path d="M460.59 514.24L465.79 510.64V517.84Z" stroke="#7E2F8E" stroke-width="1.4" fill="none" stroke-linejoin="miter"/>
<path d="M467.73 512.88L472.93 509.28V516.48Z" stroke="#7E2F8E" stroke-width="1.4" fill="none" stroke-linejoin="miter"/>
<path d="M474.88 510.08L480.08 506.48V513.68Z" stroke="#7E2F8E" stroke-width="1.4" fill="none" stroke-linejoin="miter"/>
<path d="M482.02 508.18L487.22 504.58V511.78Z" stroke="#7E2F8E" stroke-width="1.4" fill="none" stroke-linejoin="miter"/>
<path d="M489.17 506.83L494.37 503.23V510.43Z" stroke="#7E2F8E" stroke-width="1.4" fill="none" stroke-linejoin="miter"/>
<path d="M496.31 505.83L501.51 502.23V509.43Z" stroke="#7E2F8E" stroke-width="1.4" fill="none" stroke-linejoin="miter"/>
<path d="M503.46 505.38L508.66 501.78V508.98Z" stroke="#7E2F8E" stroke-width="1.4" fill="none" stroke-linejoin="miter"/>
<path d="M510.6 505.38L515.8 501.78V508.98Z" stroke="#7E2F8E" stroke-width="1.4" fill="none" stroke-linejoin="miter"/>
</g>
<path d="M228 331V557H513.8M228 557v-2.9M256.58 557v-2.9M285.16 557v-2.9M313.74 557v-2.9M342.32 557v-2.9M370.9 557v-2.9M399.48 557v-2.9M428.06 557v-2.9M456.64 557v-2.9M485.22 557v-2.9M513.8 557v-2.9M228 331h2.9M228 376.2h2.9M228 421.4h2.9M228 466.6h2.9M228 511.8h2.9M228 557h2.9" stroke="#3a3a3a" stroke-width="0.6" fill="none"/>
<g font-family="Liberation Sans, Arial, sans-serif" font-size="9.2" fill="#333">
<text x="228" y="569.4" text-anchor="middle">-0.5</text>
<text x="256.58" y="569.4" text-anchor="middle">-0.4</text>
<text x="285.16" y="569.4" text-anchor="middle">-0.3</text>
<text x="313.74" y="569.4" text-anchor="middle">-0.2</text>
<text x="342.32" y="569.4" text-anchor="middle">-0.1</text>
<text x="370.9" y="569.4" text-anchor="middle">0</text>
<text x="399.48" y="569.4" text-anchor="middle">0.1</text>
<text x="428.06" y="569.4" text-anchor="middle">0.2</text>
<text x="456.64" y="569.4" text-anchor="middle">0.3</text>
<text x="485.22" y="569.4" text-anchor="middle">0.4</text>
<text x="513.8" y="569.4" text-anchor="middle">0.5</text>
<text x="224.6" y="334.3" text-anchor="end">25</text>
<text x="224.6" y="379.5" text-anchor="end">20</text>
<text x="224.6" y="424.7" text-anchor="end">15</text>
<text x="224.6" y="469.9" text-anchor="end">10</text>
<text x="224.6" y="515.1" text-anchor="end">5</text>
<text x="224.6" y="560.3" text-anchor="end">0</text>
</g>
<g font-family="Liberation Serif, Times New Roman, serif" fill="#262626">
<text x="371" y="580.9" font-size="8.8" text-anchor="middle">Normalized Doppler frequency</text>
<text transform="translate(209.8 443.5) rotate(-90)" font-size="8.9" text-anchor="middle">Output SINR (dB)</text>
<text x="345.3" y="621.4" font-size="21.5" text-anchor="middle" fill="#111">(c)</text>
</g>
<rect x="319.7" y="504.5" width="102.5" height="45.1" fill="#fff" stroke="#3a3a3a" stroke-width="0.6"/>
<g font-family="Liberation Sans, Arial, sans-serif" font-size="8.03" fill="#111" stroke="#111" stroke-width="0.2">
<path d="M322.6 511.1H348.3" stroke="#FF00FF" stroke-width="1.35"/>
<path d="M335.3 508.2V514M332.4 511.1H338.2" stroke="#FF00FF" stroke-width="1.25" fill="none"/>
<text x="351.1" y="513.6">C-STAP(0,0)</text>
<path d="M322.6 521.7H348.3" stroke="#D95319" stroke-width="1.35"/>
<path d="M335.3 517.7L338.15 521.7L335.3 525.7L332.45 521.7Z" stroke="#D95319" stroke-width="1.4" fill="none" stroke-linejoin="miter"/>
<text x="351.1" y="524.2">C-STAP(5%,0.05π)</text>
<path d="M322.6 532.3H348.3" stroke="#00FF00" stroke-width="1.35"/>
<circle cx="335.3" cy="532.3" r="2.75" stroke="#00FF00" stroke-width="1.4" fill="none"/>
<text x="351.1" y="534.8">C-STAP(10%,0.1π)</text>
<path d="M322.6 542.9H348.3" stroke="#7E2F8E" stroke-width="1.35"/>
<path d="M332.1 542.9L337.3 539.3V546.5Z" stroke="#7E2F8E" stroke-width="1.4" fill="none" stroke-linejoin="miter"/>
<text x="351.1" y="545.4">C-STAP(20%,0.2π)</text>
</g>
</svg>
</body></html>
